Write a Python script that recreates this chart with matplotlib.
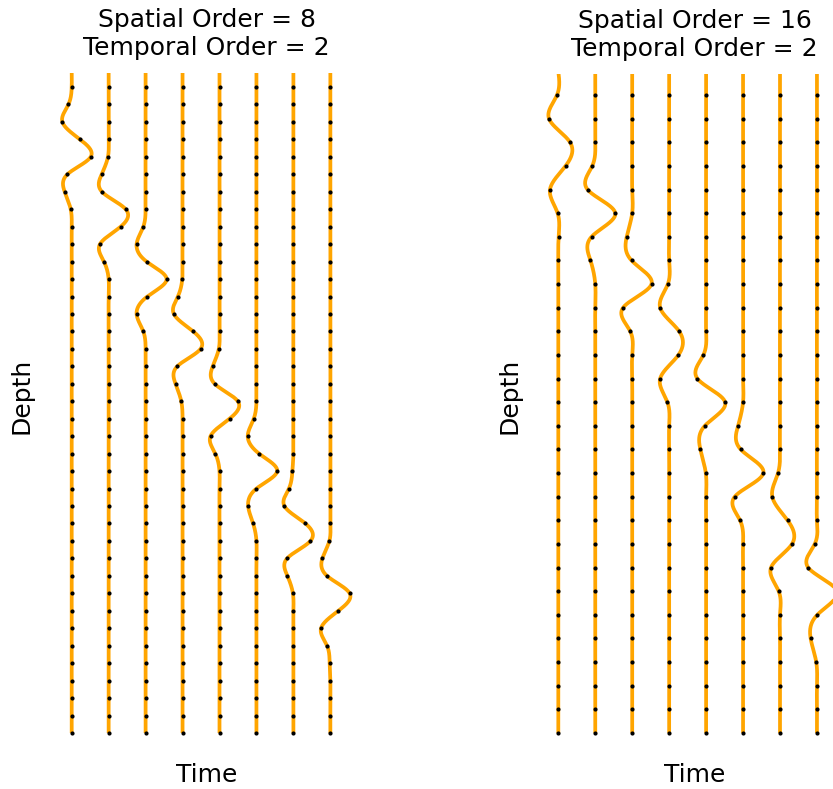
import numpy as np
import matplotlib
matplotlib.use("Agg")
import matplotlib.pyplot as plt

# ---------------- data ----------------
# Amplitude readings at each grid point (dots); zero elsewhere.
left_title = "Spatial Order = 8\nTemporal Order = 2"
right_title = "Spatial Order = 16\nTemporal Order = 2"
x_label = "Time"
y_label = "Depth"

left_npoints = 38
left_starts = [0, 4, 8, 11, 15, 19, 22, 26]
left_trace_1 = [0, -3.3, -9.3, 8.3, 19, -4.3, -7, -1]
left_trace_2 = [-0.7, -7, -6.7, 17, 12, -8.7, -4.7]
left_trace_3 = [-2.3, -9, 1, 21, 1.7, -9, -2.3]
left_trace_4 = [-0.3, -4.7, -8.7, 10.7, 18, -5.3, -7, -1.3]
left_trace_5 = [-0.7, -6.8, -4.8, 18.3, 10, -9, -4.2]
left_trace_6 = [-2.7, -8.7, 2.7, 20.7, 0, -8.3, -3.3]
left_trace_7 = [-1, -4.5, -9, 12, 17, -6.3, -6, -0.5]
left_trace_8 = [-1, -8, -3.3, 19.3, 8, -9.3, -3.3, -0.7]

right_npoints = 28
right_starts = [0, 3, 6, 8, 11, 14, 16, 19]
right_trace_1 = [-1.3, -9.3, 11.7, 7.3, -8.3, -0.7, 0.3]
right_trace_2 = [-3, -7.7, 20, -3.7, -4.8]
right_trace_3 = [-5.5, -0.7, 19.3, -9.1, -2]
right_trace_4 = [-1.3, -9, 10, 9.3, -9, -1.7]
right_trace_5 = [-2.7, -8.7, 19, -1.3, -5.7, -0.3]
right_trace_6 = [-5, -2.3, 20.3, -8.3, -3]
right_trace_7 = [-2, -7.7, 7.6, 12, -9, -1.3]
right_trace_8 = [-2.2, -8.7, 20, 0.3, -6.3, -0.7]

left_traces = [left_trace_1, left_trace_2, left_trace_3, left_trace_4,
               left_trace_5, left_trace_6, left_trace_7, left_trace_8]
right_traces = [right_trace_1, right_trace_2, right_trace_3, right_trace_4,
                right_trace_5, right_trace_6, right_trace_7, right_trace_8]

# ---------------- drawing ----------------
W, H = 833, 789
fig = plt.figure(figsize=(W / 100, H / 100), dpi=100)

amp_scale = 1 / 36.95  # amplitude units -> trace spacing


def full_trace(n, start, vals):
    a = np.zeros(n)
    a[start:start + len(vals)] = vals
    return a


def natural_spline(xk, yk, xs):
    """Natural cubic spline through (xk, yk), evaluated at xs."""
    n = len(xk)
    h = np.diff(xk)
    A = np.zeros((n, n))
    r = np.zeros(n)
    A[0, 0] = A[-1, -1] = 1.0
    for i in range(1, n - 1):
        A[i, i - 1] = h[i - 1]
        A[i, i] = 2 * (h[i - 1] + h[i])
        A[i, i + 1] = h[i]
        r[i] = 6 * ((yk[i + 1] - yk[i]) / h[i] - (yk[i] - yk[i - 1]) / h[i - 1])
    M = np.linalg.solve(A, r)
    idx = np.clip(np.searchsorted(xk, xs) - 1, 0, n - 2)
    x0, x1 = xk[idx], xk[idx + 1]
    hh = x1 - x0
    t0, t1 = x1 - xs, xs - x0
    return (M[idx] * t0 ** 3 / (6 * hh) + M[idx + 1] * t1 ** 3 / (6 * hh)
            + (yk[idx] / hh - M[idx] * hh / 6) * t0
            + (yk[idx + 1] / hh - M[idx + 1] * hh / 6) * t1)


def panel(px_left, px_right, px_top, px_bottom, n, starts, traces, title,
          first_dot_px, dot_step_px, trace0_px, ylab_px):
    ax = fig.add_axes([px_left / W, 1 - px_bottom / H,
                       (px_right - px_left) / W, (px_bottom - px_top) / H])
    k = np.arange(n)
    knots = np.arange(-1, n)
    z = np.linspace(-1, n - 1, 2000)
    for i, (st, vals) in enumerate(zip(starts, traces)):
        a = full_trace(n, st, vals)
        curve = natural_spline(knots.astype(float), np.concatenate([[0.0], a]), z)
        ax.plot(i + curve * amp_scale, z, color="orange", lw=2.7,
                solid_capstyle="butt", zorder=2)
        ax.plot(i + a * amp_scale, k, "o", color="black", ms=3.0,
                mec="none", zorder=3, clip_on=False)
    sp = 36.95
    ax.set_xlim((px_left - trace0_px) / sp, (px_right - trace0_px) / sp)
    ax.set_ylim((px_bottom - first_dot_px) / dot_step_px,
                (px_top - first_dot_px) / dot_step_px)
    ax.set_xticks([])
    ax.set_yticks([])
    for s in ax.spines.values():
        s.set_visible(False)
    ax.set_title(title, fontsize=18, pad=13)
    ax.set_xlabel(x_label, fontsize=18)
    ax.xaxis.label.set_va("center")
    ax.xaxis.set_label_coords(0.5, (px_bottom - 775) / (px_bottom - px_top))
    ax.set_ylabel(y_label, fontsize=18)
    ax.yaxis.label.set_va("center")
    ax.yaxis.label.set_ha("center")
    ax.yaxis.set_label_coords((ylab_px - px_left) / (px_right - px_left),
                              (px_bottom - 396) / (px_bottom - px_top))
    return ax


panel(46, 367, 73, 745, left_npoints, left_starts, left_traces, left_title,
      87, 17.46, 71.7, 22)
panel(534, 855, 74, 745, right_npoints, right_starts, right_traces, right_title,
      95, 23.63, 558.3, 510)

fig.savefig("out.png", dpi=100)
